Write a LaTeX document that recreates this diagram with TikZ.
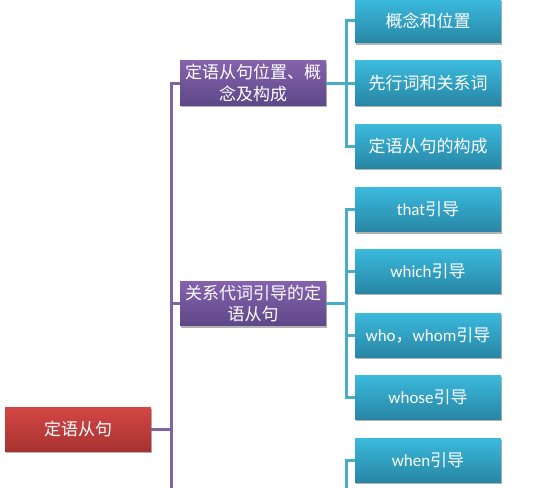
\documentclass[tikz,border=0pt]{standalone}
\usepackage{fontspec}
\setmainfont{Carlito}
\newfontfamily\cjk{Noto Sans CJK SC}
\usetikzlibrary{shadows}
\definecolor{redtop}{HTML}{D44645}
\definecolor{redbot}{HTML}{A63331}
\definecolor{purtop}{HTML}{8462AC}
\definecolor{purbot}{HTML}{5E4888}
\definecolor{teatop}{HTML}{3BBADD}
\definecolor{teabot}{HTML}{2886A5}
\definecolor{pline}{HTML}{8064A2}
\definecolor{tline}{HTML}{4BACC6}
\begin{document}
\begin{tikzpicture}[x=1pt,y=-1pt,
  box/.style={rectangle, minimum width=146pt, minimum height=44pt, inner sep=1pt,
    text=white, font=\fontsize{17}{21.5}\selectfont, align=center,
    drop shadow={shadow xshift=1pt, shadow yshift=-2pt, opacity=0.3, fill=black}},
  rootbox/.style={box, top color=redtop, bottom color=redbot},
  midbox/.style={box, top color=purtop, bottom color=purbot},
  leafbox/.style={box, top color=teatop, bottom color=teabot},
  pconn/.style={draw=pline, line width=3pt},
  tconn/.style={draw=tline, line width=3pt}]
\useasboundingbox (0,0) rectangle (543,487);
\clip (0,0) rectangle (543,487);
\fill[white] (0,0) rectangle (543,487);

\coordinate (tx) at (171,0);
\coordinate (sx) at (346,0);
\coordinate (pbot) at (171,500);
\coordinate (tbot) at (346,500);

\node[rootbox] (root) at (78,429) {\cjk 定语从句};
\node[midbox] (p1) at (253,83) {\cjk 定语从句位置、概\\\cjk 念及构成};
\node[midbox] (p2) at (253,303.5) {\cjk 关系代词引导的定\\\cjk 语从句};

\node[leafbox] (l1) at (428,21) {\cjk 概念和位置};
\node[leafbox] (l2) at (428,83) {\cjk 先行词和关系词};
\node[leafbox] (l3) at (428,146) {\cjk 定语从句的构成};
\node[leafbox] (l4) at (428,209.5) {that{\cjk 引导}};
\node[leafbox] (l5) at (428,271) {which{\cjk 引导}};
\node[leafbox] (l6) at (428,335) {who{\cjk ，}whom{\cjk 引导}};
\node[leafbox] (l7) at (428,397) {whose{\cjk 引导}};
\node[leafbox] (l8) at (428,460) {when{\cjk 引导}};

\draw[pconn] (root.east) -- (root.east -| tx);
\draw[pconn] (p1.west) -| (pbot);
\draw[pconn] (p2.west) -- (p2.west -| tx);

\draw[tconn] (p1.east) -- (p1.east -| sx);
\draw[tconn] (l1.west) -| (l3.west -| sx) -- (l3.west);
\draw[tconn] (l2.west) -- (l2.west -| sx);

\draw[tconn] (p2.east) -- (p2.east -| sx);
\draw[tconn] (l4.west) -| (l7.west -| sx) -- (l7.west);
\draw[tconn] (l5.west) -- (l5.west -| sx);
\draw[tconn] (l6.west) -- (l6.west -| sx);

\draw[tconn] (l8.west) -| (tbot);
\end{tikzpicture}
\end{document}
